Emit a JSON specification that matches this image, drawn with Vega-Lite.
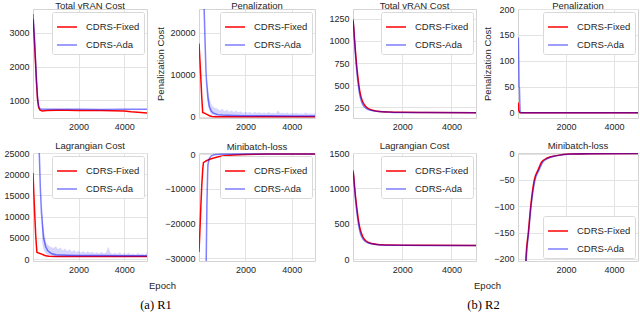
{
"$schema": "https://vega.github.io/schema/vega-lite/v6.json",
"padding": {"left": 0, "top": 0, "right": 0, "bottom": 0},
"spacing": 0,
"config": {
 "font": "Liberation Sans",
 "view": {"stroke": "#d4d4d4", "strokeWidth": 1},
 "axis": {"domain": false, "ticks": false, "grid": true, "gridColor": "#e3e3e3", "gridWidth": 1, "labelFontSize": 9, "labelColor": "#262626", "labelPadding": 4, "titleFontSize": 9.5, "titleFontWeight": "normal", "titleColor": "#262626", "labelFont": "Liberation Sans", "titleFont": "Liberation Sans"},
 "title": {"fontSize": 9.5, "fontWeight": "normal", "color": "#262626", "offset": -1, "font": "Liberation Sans"},
 "legend": {"orient": "top-right", "offset": 3, "fillColor": "white", "strokeColor": "#d9d9d9", "cornerRadius": 2, "padding": 4, "rowPadding": 2, "labelFontSize": 9.5, "labelColor": "#262626", "symbolType": "stroke", "symbolSize": 400, "symbolStrokeWidth": 1.5, "labelOffset": 8, "labelFont": "Liberation Sans"}
},
"datasets": {
 "p1": [
  {"s":"CDRS-Fixed","x":0,"y":3400},{"s":"CDRS-Fixed","x":50,"y":2900},{"s":"CDRS-Fixed","x":100,"y":2250},{"s":"CDRS-Fixed","x":150,"y":1550},{"s":"CDRS-Fixed","x":200,"y":1020},{"s":"CDRS-Fixed","x":250,"y":790},{"s":"CDRS-Fixed","x":300,"y":720},{"s":"CDRS-Fixed","x":400,"y":690},{"s":"CDRS-Fixed","x":600,"y":700},{"s":"CDRS-Fixed","x":1000,"y":712},{"s":"CDRS-Fixed","x":1500,"y":706},{"s":"CDRS-Fixed","x":2000,"y":702},{"s":"CDRS-Fixed","x":2500,"y":700},{"s":"CDRS-Fixed","x":3000,"y":698},{"s":"CDRS-Fixed","x":3500,"y":692},{"s":"CDRS-Fixed","x":4000,"y":685},{"s":"CDRS-Fixed","x":4300,"y":665},{"s":"CDRS-Fixed","x":4600,"y":650},{"s":"CDRS-Fixed","x":5000,"y":630},
  {"s":"CDRS-Ada","x":0,"y":3550},{"s":"CDRS-Ada","x":50,"y":3050},{"s":"CDRS-Ada","x":100,"y":2350},{"s":"CDRS-Ada","x":150,"y":1650},{"s":"CDRS-Ada","x":200,"y":1080},{"s":"CDRS-Ada","x":250,"y":820},{"s":"CDRS-Ada","x":300,"y":755},{"s":"CDRS-Ada","x":400,"y":740},{"s":"CDRS-Ada","x":1000,"y":738},{"s":"CDRS-Ada","x":2000,"y":735},{"s":"CDRS-Ada","x":3000,"y":733},{"s":"CDRS-Ada","x":4000,"y":735},{"s":"CDRS-Ada","x":5000,"y":738}
 ],
 "p2": [
  {"s":"CDRS-Fixed","x":0,"y":17400},{"s":"CDRS-Fixed","x":40,"y":13500},{"s":"CDRS-Fixed","x":80,"y":9000},{"s":"CDRS-Fixed","x":120,"y":4500},{"s":"CDRS-Fixed","x":160,"y":1000},{"s":"CDRS-Fixed","x":250,"y":800},{"s":"CDRS-Fixed","x":360,"y":500},{"s":"CDRS-Fixed","x":450,"y":250},{"s":"CDRS-Fixed","x":560,"y":50},{"s":"CDRS-Fixed","x":700,"y":20},{"s":"CDRS-Fixed","x":5000,"y":10},
  {"s":"CDRS-Ada","x":0,"y":70000},{"s":"CDRS-Ada","x":150,"y":45000},{"s":"CDRS-Ada","x":220,"y":26000},{"s":"CDRS-Ada","x":260,"y":18000},{"s":"CDRS-Ada","x":300,"y":11000},{"s":"CDRS-Ada","x":330,"y":7900},{"s":"CDRS-Ada","x":380,"y":4800},{"s":"CDRS-Ada","x":445,"y":2400},{"s":"CDRS-Ada","x":520,"y":1400},{"s":"CDRS-Ada","x":600,"y":900},{"s":"CDRS-Ada","x":800,"y":500},{"s":"CDRS-Ada","x":1000,"y":400},{"s":"CDRS-Ada","x":1500,"y":300},{"s":"CDRS-Ada","x":2000,"y":250},{"s":"CDRS-Ada","x":3000,"y":220},{"s":"CDRS-Ada","x":4000,"y":200},{"s":"CDRS-Ada","x":5000,"y":200},
  {"s":"band","x":350,"y":4000,"y2":9000},{"s":"band","x":400,"y":2500,"y2":6500},{"s":"band","x":450,"y":1500,"y2":4500},{"s":"band","x":500,"y":800,"y2":3300},{"s":"band","x":600,"y":400,"y2":2400},{"s":"band","x":700,"y":200,"y2":2100},{"s":"band","x":800,"y":150,"y2":1900},{"s":"band","x":900,"y":0,"y2":1500},{"s":"band","x":1000,"y":0,"y2":1900},{"s":"band","x":1100,"y":0,"y2":1300},{"s":"band","x":1200,"y":0,"y2":1700},{"s":"band","x":1300,"y":0,"y2":1200},{"s":"band","x":1400,"y":0,"y2":1500},{"s":"band","x":1500,"y":0,"y2":1100},{"s":"band","x":1600,"y":0,"y2":1400},{"s":"band","x":1700,"y":0,"y2":1000},{"s":"band","x":1800,"y":0,"y2":1300},{"s":"band","x":1900,"y":0,"y2":900},{"s":"band","x":2000,"y":0,"y2":1200},{"s":"band","x":2100,"y":0,"y2":950},{"s":"band","x":2200,"y":0,"y2":1150},{"s":"band","x":2300,"y":0,"y2":800},{"s":"band","x":2400,"y":0,"y2":1100},{"s":"band","x":2500,"y":0,"y2":900},{"s":"band","x":2600,"y":0,"y2":1050},{"s":"band","x":2700,"y":0,"y2":800},{"s":"band","x":2800,"y":0,"y2":1000},{"s":"band","x":2900,"y":0,"y2":850},{"s":"band","x":3000,"y":0,"y2":1100},{"s":"band","x":3100,"y":0,"y2":800},{"s":"band","x":3200,"y":0,"y2":950},{"s":"band","x":3300,"y":0,"y2":700},{"s":"band","x":3400,"y":0,"y2":1500},{"s":"band","x":3500,"y":0,"y2":800},{"s":"band","x":3600,"y":0,"y2":950},{"s":"band","x":3700,"y":0,"y2":750},{"s":"band","x":3800,"y":0,"y2":1000},{"s":"band","x":3900,"y":0,"y2":700},{"s":"band","x":4000,"y":0,"y2":900},{"s":"band","x":4100,"y":0,"y2":750},{"s":"band","x":4200,"y":0,"y2":950},{"s":"band","x":4300,"y":0,"y2":700},{"s":"band","x":4400,"y":0,"y2":850},{"s":"band","x":4500,"y":0,"y2":650},{"s":"band","x":4600,"y":0,"y2":1000},{"s":"band","x":4700,"y":0,"y2":700},{"s":"band","x":4800,"y":0,"y2":850},{"s":"band","x":4900,"y":0,"y2":650},{"s":"band","x":5000,"y":0,"y2":900}
 ],
 "p3": [
  {"s":"CDRS-Fixed","x":0,"y":1230},{"s":"CDRS-Fixed","x":30,"y":1150},{"s":"CDRS-Fixed","x":60,"y":1030},{"s":"CDRS-Fixed","x":100,"y":880},{"s":"CDRS-Fixed","x":150,"y":720},{"s":"CDRS-Fixed","x":200,"y":590},{"s":"CDRS-Fixed","x":250,"y":480},{"s":"CDRS-Fixed","x":300,"y":400},{"s":"CDRS-Fixed","x":400,"y":310},{"s":"CDRS-Fixed","x":500,"y":265},{"s":"CDRS-Fixed","x":600,"y":240},{"s":"CDRS-Fixed","x":800,"y":218},{"s":"CDRS-Fixed","x":1000,"y":207},{"s":"CDRS-Fixed","x":1500,"y":197},{"s":"CDRS-Fixed","x":2000,"y":194},{"s":"CDRS-Fixed","x":3000,"y":192},{"s":"CDRS-Fixed","x":5000,"y":190},
  {"s":"CDRS-Ada","x":0,"y":1250},{"s":"CDRS-Ada","x":30,"y":1140},{"s":"CDRS-Ada","x":60,"y":1000},{"s":"CDRS-Ada","x":100,"y":840},{"s":"CDRS-Ada","x":150,"y":670},{"s":"CDRS-Ada","x":200,"y":540},{"s":"CDRS-Ada","x":250,"y":430},{"s":"CDRS-Ada","x":300,"y":360},{"s":"CDRS-Ada","x":400,"y":280},{"s":"CDRS-Ada","x":500,"y":245},{"s":"CDRS-Ada","x":600,"y":228},{"s":"CDRS-Ada","x":800,"y":212},{"s":"CDRS-Ada","x":1000,"y":204},{"s":"CDRS-Ada","x":1500,"y":196},{"s":"CDRS-Ada","x":2000,"y":193},{"s":"CDRS-Ada","x":3000,"y":191},{"s":"CDRS-Ada","x":5000,"y":190}
 ],
 "p4": [
  {"s":"CDRS-Fixed","x":0,"y":20},{"s":"CDRS-Fixed","x":15,"y":15},{"s":"CDRS-Fixed","x":30,"y":5},{"s":"CDRS-Fixed","x":60,"y":1},{"s":"CDRS-Fixed","x":100,"y":0},{"s":"CDRS-Fixed","x":5000,"y":0},
  {"s":"CDRS-Ada","x":0,"y":140},{"s":"CDRS-Ada","x":15,"y":145},{"s":"CDRS-Ada","x":30,"y":100},{"s":"CDRS-Ada","x":45,"y":50},{"s":"CDRS-Ada","x":60,"y":48},{"s":"CDRS-Ada","x":75,"y":20},{"s":"CDRS-Ada","x":90,"y":2},{"s":"CDRS-Ada","x":150,"y":0},{"s":"CDRS-Ada","x":5000,"y":0}
 ],
 "p5": [
  {"s":"CDRS-Fixed","x":0,"y":20300},{"s":"CDRS-Fixed","x":40,"y":15000},{"s":"CDRS-Fixed","x":80,"y":10000},{"s":"CDRS-Fixed","x":120,"y":5500},{"s":"CDRS-Fixed","x":170,"y":1600},{"s":"CDRS-Fixed","x":250,"y":1400},{"s":"CDRS-Fixed","x":350,"y":1200},{"s":"CDRS-Fixed","x":450,"y":1000},{"s":"CDRS-Fixed","x":550,"y":750},{"s":"CDRS-Fixed","x":700,"y":650},{"s":"CDRS-Fixed","x":1000,"y":620},{"s":"CDRS-Fixed","x":2000,"y":600},{"s":"CDRS-Fixed","x":3000,"y":600},{"s":"CDRS-Fixed","x":4000,"y":590},{"s":"CDRS-Fixed","x":5000,"y":580},
  {"s":"CDRS-Ada","x":0,"y":80000},{"s":"CDRS-Ada","x":200,"y":40000},{"s":"CDRS-Ada","x":275,"y":25000},{"s":"CDRS-Ada","x":320,"y":17000},{"s":"CDRS-Ada","x":370,"y":11000},{"s":"CDRS-Ada","x":420,"y":7500},{"s":"CDRS-Ada","x":465,"y":5000},{"s":"CDRS-Ada","x":550,"y":3000},{"s":"CDRS-Ada","x":640,"y":2000},{"s":"CDRS-Ada","x":800,"y":1300},{"s":"CDRS-Ada","x":1000,"y":1000},{"s":"CDRS-Ada","x":1500,"y":900},{"s":"CDRS-Ada","x":2000,"y":850},{"s":"CDRS-Ada","x":3000,"y":800},{"s":"CDRS-Ada","x":4000,"y":780},{"s":"CDRS-Ada","x":5000,"y":750},
  {"s":"band","x":400,"y":4000,"y2":13000},{"s":"band","x":450,"y":2500,"y2":8500},{"s":"band","x":500,"y":1800,"y2":6000},{"s":"band","x":550,"y":1300,"y2":4500},{"s":"band","x":600,"y":1100,"y2":3600},{"s":"band","x":700,"y":900,"y2":3100},{"s":"band","x":800,"y":800,"y2":2800},{"s":"band","x":900,"y":500,"y2":2600},{"s":"band","x":1000,"y":500,"y2":3000},{"s":"band","x":1100,"y":500,"y2":2300},{"s":"band","x":1200,"y":500,"y2":2700},{"s":"band","x":1300,"y":500,"y2":2000},{"s":"band","x":1400,"y":500,"y2":2500},{"s":"band","x":1500,"y":500,"y2":1900},{"s":"band","x":1600,"y":500,"y2":2300},{"s":"band","x":1700,"y":500,"y2":1700},{"s":"band","x":1800,"y":500,"y2":2100},{"s":"band","x":1900,"y":500,"y2":1600},{"s":"band","x":2000,"y":500,"y2":2000},{"s":"band","x":2100,"y":500,"y2":1500},{"s":"band","x":2200,"y":500,"y2":1900},{"s":"band","x":2300,"y":500,"y2":1400},{"s":"band","x":2400,"y":500,"y2":1800},{"s":"band","x":2500,"y":500,"y2":1500},{"s":"band","x":2600,"y":500,"y2":1700},{"s":"band","x":2700,"y":500,"y2":1300},{"s":"band","x":2800,"y":500,"y2":1600},{"s":"band","x":2900,"y":500,"y2":1300},{"s":"band","x":3000,"y":500,"y2":1700},{"s":"band","x":3100,"y":500,"y2":1300},{"s":"band","x":3200,"y":500,"y2":1500},{"s":"band","x":3300,"y":500,"y2":2900},{"s":"band","x":3400,"y":500,"y2":1400},{"s":"band","x":3500,"y":500,"y2":1200},{"s":"band","x":3600,"y":500,"y2":1500},{"s":"band","x":3700,"y":500,"y2":1200},{"s":"band","x":3800,"y":500,"y2":1600},{"s":"band","x":3900,"y":500,"y2":1100},{"s":"band","x":4000,"y":500,"y2":1400},{"s":"band","x":4100,"y":500,"y2":1200},{"s":"band","x":4200,"y":500,"y2":1500},{"s":"band","x":4300,"y":500,"y2":1100},{"s":"band","x":4400,"y":500,"y2":1300},{"s":"band","x":4500,"y":500,"y2":1000},{"s":"band","x":4600,"y":500,"y2":1500},{"s":"band","x":4700,"y":500,"y2":1100},{"s":"band","x":4800,"y":500,"y2":1300},{"s":"band","x":4900,"y":500,"y2":1000},{"s":"band","x":5000,"y":500,"y2":1700}
 ],
 "p6": [
  {"s":"CDRS-Fixed","x":0,"y":-28200},{"s":"CDRS-Fixed","x":40,"y":-22000},{"s":"CDRS-Fixed","x":80,"y":-15000},{"s":"CDRS-Fixed","x":120,"y":-9000},{"s":"CDRS-Fixed","x":160,"y":-4500},{"s":"CDRS-Fixed","x":190,"y":-2500},{"s":"CDRS-Fixed","x":300,"y":-2000},{"s":"CDRS-Fixed","x":460,"y":-1500},{"s":"CDRS-Fixed","x":600,"y":-1200},{"s":"CDRS-Fixed","x":830,"y":-800},{"s":"CDRS-Fixed","x":1100,"y":-500},{"s":"CDRS-Fixed","x":1500,"y":-300},{"s":"CDRS-Fixed","x":2000,"y":-150},{"s":"CDRS-Fixed","x":2500,"y":-50},{"s":"CDRS-Fixed","x":3000,"y":-20},{"s":"CDRS-Fixed","x":5000,"y":0},
  {"s":"CDRS-Ada","x":0,"y":-80000},{"s":"CDRS-Ada","x":250,"y":-45000},{"s":"CDRS-Ada","x":310,"y":-31000},{"s":"CDRS-Ada","x":340,"y":-15000},{"s":"CDRS-Ada","x":370,"y":-6000},{"s":"CDRS-Ada","x":385,"y":-3000},{"s":"CDRS-Ada","x":450,"y":-1200},{"s":"CDRS-Ada","x":530,"y":-500},{"s":"CDRS-Ada","x":700,"y":-150},{"s":"CDRS-Ada","x":1000,"y":-50},{"s":"CDRS-Ada","x":2000,"y":-10},{"s":"CDRS-Ada","x":5000,"y":0}
 ],
 "p7": [
  {"s":"CDRS-Fixed","x":0,"y":1240},{"s":"CDRS-Fixed","x":30,"y":1170},{"s":"CDRS-Fixed","x":60,"y":1040},{"s":"CDRS-Fixed","x":100,"y":890},{"s":"CDRS-Fixed","x":150,"y":740},{"s":"CDRS-Fixed","x":200,"y":600},{"s":"CDRS-Fixed","x":250,"y":490},{"s":"CDRS-Fixed","x":300,"y":410},{"s":"CDRS-Fixed","x":400,"y":315},{"s":"CDRS-Fixed","x":500,"y":265},{"s":"CDRS-Fixed","x":600,"y":240},{"s":"CDRS-Fixed","x":800,"y":215},{"s":"CDRS-Fixed","x":1000,"y":205},{"s":"CDRS-Fixed","x":1500,"y":197},{"s":"CDRS-Fixed","x":2000,"y":195},{"s":"CDRS-Fixed","x":3000,"y":194},{"s":"CDRS-Fixed","x":5000,"y":193},
  {"s":"CDRS-Ada","x":0,"y":1260},{"s":"CDRS-Ada","x":30,"y":1150},{"s":"CDRS-Ada","x":60,"y":1010},{"s":"CDRS-Ada","x":100,"y":850},{"s":"CDRS-Ada","x":150,"y":680},{"s":"CDRS-Ada","x":200,"y":550},{"s":"CDRS-Ada","x":250,"y":440},{"s":"CDRS-Ada","x":300,"y":365},{"s":"CDRS-Ada","x":400,"y":285},{"s":"CDRS-Ada","x":500,"y":248},{"s":"CDRS-Ada","x":600,"y":230},{"s":"CDRS-Ada","x":800,"y":212},{"s":"CDRS-Ada","x":1000,"y":203},{"s":"CDRS-Ada","x":1500,"y":196},{"s":"CDRS-Ada","x":2000,"y":194},{"s":"CDRS-Ada","x":3000,"y":193},{"s":"CDRS-Ada","x":5000,"y":193}
 ],
 "p8": [
  {"s":"CDRS-Fixed","x":0,"y":-2500},{"s":"CDRS-Fixed","x":200,"y":-700},{"s":"CDRS-Fixed","x":330,"y":-200},{"s":"CDRS-Fixed","x":430,"y":-150},{"s":"CDRS-Fixed","x":530,"y":-100},{"s":"CDRS-Fixed","x":680,"y":-50},{"s":"CDRS-Fixed","x":850,"y":-30},{"s":"CDRS-Fixed","x":985,"y":-16},{"s":"CDRS-Fixed","x":1200,"y":-9},{"s":"CDRS-Fixed","x":1610,"y":-4},{"s":"CDRS-Fixed","x":2170,"y":-1},{"s":"CDRS-Fixed","x":3000,"y":-0.3},{"s":"CDRS-Fixed","x":5000,"y":0},
  {"s":"CDRS-Ada","x":0,"y":-2500},{"s":"CDRS-Ada","x":200,"y":-750},{"s":"CDRS-Ada","x":340,"y":-205},{"s":"CDRS-Ada","x":445,"y":-150},{"s":"CDRS-Ada","x":545,"y":-100},{"s":"CDRS-Ada","x":700,"y":-52},{"s":"CDRS-Ada","x":880,"y":-31},{"s":"CDRS-Ada","x":1020,"y":-17},{"s":"CDRS-Ada","x":1250,"y":-9},{"s":"CDRS-Ada","x":1650,"y":-4},{"s":"CDRS-Ada","x":2200,"y":-1},{"s":"CDRS-Ada","x":3000,"y":-0.3},{"s":"CDRS-Ada","x":5000,"y":0}
 ]
},
"resolve": {"scale": {"color": "independent", "opacity": "independent"}, "legend": {"color": "independent", "opacity": "independent"}},
"hconcat": [
 {
  "columns": 2, "bounds": "flush", "align": "each", "spacing": {"row": 35, "column": 52},
  "title": {"text": "(a) R1", "orient": "bottom", "anchor": "middle", "offset": 9, "dx": -2, "font": "Liberation Serif", "fontSize": 12.5, "color": "#000000"},
  "resolve": {"scale": {"color": "independent", "opacity": "independent"}, "legend": {"color": "independent", "opacity": "independent"}},
  "concat": [
   {
    "width": 114, "height": 109, "title": "Total vRAN Cost", "data": {"name": "p1"},
    "encoding": {
     "x": {"field": "x", "type": "quantitative", "scale": {"domain": [0, 5000], "nice": false, "zero": false}, "axis": {"values": [2000, 4000], "format": "d", "title": null}},
     "y": {"field": "y", "type": "quantitative", "scale": {"domain": [480, 3700], "nice": false, "zero": false}, "axis": {"values": [1000, 2000, 3000], "format": "d", "title": null, "minExtent": 32, "maxExtent": 32}}
    },
    "layer": [
     {"transform": [{"filter": "datum.s === 'CDRS-Fixed'"}], "mark": {"type": "line", "clip": true, "strokeWidth": 1.5}, "encoding": {"color": {"field": "s", "type": "nominal", "scale": {"domain": ["CDRS-Fixed", "CDRS-Ada"], "range": ["#ff0000", "#0000ff"]}, "legend": {"title": null}}, "opacity": {"field": "s", "type": "nominal", "scale": {"domain": ["CDRS-Fixed", "CDRS-Ada"], "range": [1, 0.5]}, "legend": {"title": null}}}},
     {"transform": [{"filter": "datum.s === 'CDRS-Ada'"}], "mark": {"type": "line", "clip": true, "strokeWidth": 1.5}, "encoding": {"color": {"field": "s", "type": "nominal", "scale": {"domain": ["CDRS-Fixed", "CDRS-Ada"], "range": ["#ff0000", "#0000ff"]}, "legend": {"title": null}}, "opacity": {"field": "s", "type": "nominal", "scale": {"domain": ["CDRS-Fixed", "CDRS-Ada"], "range": [1, 0.5]}, "legend": {"title": null}}}}
    ]
   },
   {
    "width": 116, "height": 109, "title": "Penalization", "data": {"name": "p2"},
    "encoding": {
     "x": {"field": "x", "type": "quantitative", "scale": {"domain": [0, 5000], "nice": false, "zero": false}, "axis": {"values": [2000, 4000], "format": "d", "title": null}},
     "y": {"field": "y", "type": "quantitative", "scale": {"domain": [-300, 25600], "nice": false, "zero": false}, "axis": {"values": [0, 10000, 20000], "format": "d", "title": "Penalization Cost", "minExtent": 29, "maxExtent": 29, "titlePadding": 5}}
    },
    "layer": [
     {"transform": [{"filter": "datum.s === 'CDRS-Fixed'"}], "mark": {"type": "line", "clip": true, "strokeWidth": 1.5}, "encoding": {"color": {"field": "s", "type": "nominal", "scale": {"domain": ["CDRS-Fixed", "CDRS-Ada"], "range": ["#ff0000", "#0000ff"]}, "legend": {"title": null}}, "opacity": {"field": "s", "type": "nominal", "scale": {"domain": ["CDRS-Fixed", "CDRS-Ada"], "range": [1, 0.5]}, "legend": {"title": null}}}},
     {"transform": [{"filter": "datum.s === 'band'"}], "mark": {"type": "area", "clip": true, "color": "#0000ff", "opacity": 0.16}, "encoding": {"y2": {"field": "y2"}}},
     {"transform": [{"filter": "datum.s === 'CDRS-Ada'"}], "mark": {"type": "line", "clip": true, "strokeWidth": 1.5}, "encoding": {"color": {"field": "s", "type": "nominal", "scale": {"domain": ["CDRS-Fixed", "CDRS-Ada"], "range": ["#ff0000", "#0000ff"]}, "legend": {"title": null}}, "opacity": {"field": "s", "type": "nominal", "scale": {"domain": ["CDRS-Fixed", "CDRS-Ada"], "range": [1, 0.5]}, "legend": {"title": null}}}}
    ]
   },
   {
    "width": 114, "height": 108, "title": "Lagrangian Cost", "data": {"name": "p5"},
    "encoding": {
     "x": {"field": "x", "type": "quantitative", "scale": {"domain": [0, 5000], "nice": false, "zero": false}, "axis": {"values": [2000, 4000], "format": "d", "title": null}},
     "y": {"field": "y", "type": "quantitative", "scale": {"domain": [-470, 25000], "nice": false, "zero": false}, "axis": {"values": [0, 5000, 10000, 15000, 20000, 25000], "format": "d", "title": null, "minExtent": 32, "maxExtent": 32}}
    },
    "layer": [
     {"transform": [{"filter": "datum.s === 'CDRS-Fixed'"}], "mark": {"type": "line", "clip": true, "strokeWidth": 1.5}, "encoding": {"color": {"field": "s", "type": "nominal", "scale": {"domain": ["CDRS-Fixed", "CDRS-Ada"], "range": ["#ff0000", "#0000ff"]}, "legend": {"title": null}}, "opacity": {"field": "s", "type": "nominal", "scale": {"domain": ["CDRS-Fixed", "CDRS-Ada"], "range": [1, 0.5]}, "legend": {"title": null}}}},
     {"transform": [{"filter": "datum.s === 'band'"}], "mark": {"type": "area", "clip": true, "color": "#0000ff", "opacity": 0.16}, "encoding": {"y2": {"field": "y2"}}},
     {"transform": [{"filter": "datum.s === 'CDRS-Ada'"}], "mark": {"type": "line", "clip": true, "strokeWidth": 1.5}, "encoding": {"color": {"field": "s", "type": "nominal", "scale": {"domain": ["CDRS-Fixed", "CDRS-Ada"], "range": ["#ff0000", "#0000ff"]}, "legend": {"title": null}}, "opacity": {"field": "s", "type": "nominal", "scale": {"domain": ["CDRS-Fixed", "CDRS-Ada"], "range": [1, 0.5]}, "legend": {"title": null}}}}
    ]
   },
   {
    "width": 116, "height": 108, "title": "Minibatch-loss", "data": {"name": "p6"},
    "encoding": {
     "x": {"field": "x", "type": "quantitative", "scale": {"domain": [0, 5000], "nice": false, "zero": false}, "axis": {"values": [2000, 4000], "format": "d", "title": "Epoch", "titleX": -37, "titleY": 24, "titleAlign": "center", "titleBaseline": "middle"}},
     "y": {"field": "y", "type": "quantitative", "scale": {"domain": [-30800, 300], "nice": false, "zero": false}, "axis": {"values": [-30000, -20000, -10000, 0], "format": "d", "title": null}}
    },
    "layer": [
     {"transform": [{"filter": "datum.s === 'CDRS-Fixed'"}], "mark": {"type": "line", "clip": true, "strokeWidth": 1.5}, "encoding": {"color": {"field": "s", "type": "nominal", "scale": {"domain": ["CDRS-Fixed", "CDRS-Ada"], "range": ["#ff0000", "#0000ff"]}, "legend": {"title": null}}, "opacity": {"field": "s", "type": "nominal", "scale": {"domain": ["CDRS-Fixed", "CDRS-Ada"], "range": [1, 0.5]}, "legend": {"title": null}}}},
     {"transform": [{"filter": "datum.s === 'CDRS-Ada'"}], "mark": {"type": "line", "clip": true, "strokeWidth": 1.5}, "encoding": {"color": {"field": "s", "type": "nominal", "scale": {"domain": ["CDRS-Fixed", "CDRS-Ada"], "range": ["#ff0000", "#0000ff"]}, "legend": {"title": null}}, "opacity": {"field": "s", "type": "nominal", "scale": {"domain": ["CDRS-Fixed", "CDRS-Ada"], "range": [1, 0.5]}, "legend": {"title": null}}}}
    ]
   }
  ]
 },
 {
  "columns": 2, "bounds": "flush", "align": "each", "spacing": {"row": 35, "column": 42},
  "title": {"text": "(b) R2", "orient": "bottom", "anchor": "middle", "offset": 9, "dx": 6, "font": "Liberation Serif", "fontSize": 12.5, "color": "#000000"},
  "resolve": {"scale": {"color": "independent", "opacity": "independent"}, "legend": {"color": "independent", "opacity": "independent"}},
  "concat": [
   {
    "width": 123, "height": 109, "title": "Total vRAN Cost", "data": {"name": "p3"},
    "encoding": {
     "x": {"field": "x", "type": "quantitative", "scale": {"domain": [0, 5000], "nice": false, "zero": false}, "axis": {"values": [2000, 4000], "format": "d", "title": null}},
     "y": {"field": "y", "type": "quantitative", "scale": {"domain": [130, 1360], "nice": false, "zero": false}, "axis": {"values": [250, 500, 750, 1000, 1250], "format": "d", "title": null, "minExtent": 36, "maxExtent": 36}}
    },
    "layer": [
     {"transform": [{"filter": "datum.s === 'CDRS-Fixed'"}], "mark": {"type": "line", "clip": true, "strokeWidth": 1.5, "interpolate": "monotone"}, "encoding": {"color": {"field": "s", "type": "nominal", "scale": {"domain": ["CDRS-Fixed", "CDRS-Ada"], "range": ["#ff0000", "#0000ff"]}, "legend": {"title": null}}, "opacity": {"field": "s", "type": "nominal", "scale": {"domain": ["CDRS-Fixed", "CDRS-Ada"], "range": [1, 0.5]}, "legend": {"title": null}}}},
     {"transform": [{"filter": "datum.s === 'CDRS-Ada'"}], "mark": {"type": "line", "clip": true, "strokeWidth": 1.5, "interpolate": "monotone"}, "encoding": {"color": {"field": "s", "type": "nominal", "scale": {"domain": ["CDRS-Fixed", "CDRS-Ada"], "range": ["#ff0000", "#0000ff"]}, "legend": {"title": null}}, "opacity": {"field": "s", "type": "nominal", "scale": {"domain": ["CDRS-Fixed", "CDRS-Ada"], "range": [1, 0.5]}, "legend": {"title": null}}}}
    ]
   },
   {
    "width": 120, "height": 109, "title": {"text": "Penalization", "offset": -5}, "data": {"name": "p4"},
    "encoding": {
     "x": {"field": "x", "type": "quantitative", "scale": {"domain": [0, 5000], "nice": false, "zero": false}, "axis": {"values": [2000, 4000], "format": "d", "title": null}},
     "y": {"field": "y", "type": "quantitative", "scale": {"domain": [-10, 200], "nice": false, "zero": false}, "axis": {"values": [0, 50, 100, 150, 200], "format": "d", "title": "Penalization Cost", "minExtent": 20, "maxExtent": 20, "titlePadding": 6}}
    },
    "layer": [
     {"transform": [{"filter": "datum.s === 'CDRS-Fixed'"}], "mark": {"type": "line", "clip": true, "strokeWidth": 1.5}, "encoding": {"color": {"field": "s", "type": "nominal", "scale": {"domain": ["CDRS-Fixed", "CDRS-Ada"], "range": ["#ff0000", "#0000ff"]}, "legend": {"title": null}}, "opacity": {"field": "s", "type": "nominal", "scale": {"domain": ["CDRS-Fixed", "CDRS-Ada"], "range": [1, 0.5]}, "legend": {"title": null}}}},
     {"transform": [{"filter": "datum.s === 'CDRS-Ada'"}], "mark": {"type": "line", "clip": true, "strokeWidth": 1.5}, "encoding": {"color": {"field": "s", "type": "nominal", "scale": {"domain": ["CDRS-Fixed", "CDRS-Ada"], "range": ["#ff0000", "#0000ff"]}, "legend": {"title": null}}, "opacity": {"field": "s", "type": "nominal", "scale": {"domain": ["CDRS-Fixed", "CDRS-Ada"], "range": [1, 0.5]}, "legend": {"title": null}}}}
    ]
   },
   {
    "width": 123, "height": 108, "title": "Lagrangian Cost", "data": {"name": "p7"},
    "encoding": {
     "x": {"field": "x", "type": "quantitative", "scale": {"domain": [0, 5000], "nice": false, "zero": false}, "axis": {"values": [2000, 4000], "format": "d", "title": null}},
     "y": {"field": "y", "type": "quantitative", "scale": {"domain": [-28, 1500], "nice": false, "zero": false}, "axis": {"values": [0, 500, 1000, 1500], "format": "d", "title": null, "minExtent": 36, "maxExtent": 36}}
    },
    "layer": [
     {"transform": [{"filter": "datum.s === 'CDRS-Fixed'"}], "mark": {"type": "line", "clip": true, "strokeWidth": 1.5, "interpolate": "monotone"}, "encoding": {"color": {"field": "s", "type": "nominal", "scale": {"domain": ["CDRS-Fixed", "CDRS-Ada"], "range": ["#ff0000", "#0000ff"]}, "legend": {"title": null}}, "opacity": {"field": "s", "type": "nominal", "scale": {"domain": ["CDRS-Fixed", "CDRS-Ada"], "range": [1, 0.5]}, "legend": {"title": null}}}},
     {"transform": [{"filter": "datum.s === 'CDRS-Ada'"}], "mark": {"type": "line", "clip": true, "strokeWidth": 1.5, "interpolate": "monotone"}, "encoding": {"color": {"field": "s", "type": "nominal", "scale": {"domain": ["CDRS-Fixed", "CDRS-Ada"], "range": ["#ff0000", "#0000ff"]}, "legend": {"title": null}}, "opacity": {"field": "s", "type": "nominal", "scale": {"domain": ["CDRS-Fixed", "CDRS-Ada"], "range": [1, 0.5]}, "legend": {"title": null}}}}
    ]
   },
   {
    "width": 120, "height": 108, "title": "Minibatch-loss", "data": {"name": "p8"},
    "encoding": {
     "x": {"field": "x", "type": "quantitative", "scale": {"domain": [0, 5000], "nice": false, "zero": false}, "axis": {"values": [2000, 4000], "format": "d", "title": "Epoch", "titleX": -31, "titleY": 24, "titleAlign": "center", "titleBaseline": "middle"}},
     "y": {"field": "y", "type": "quantitative", "scale": {"domain": [-204, 1], "nice": false, "zero": false}, "axis": {"values": [-200, -150, -100, -50, 0], "format": "d", "title": null}}
    },
    "layer": [
     {"transform": [{"filter": "datum.s === 'CDRS-Fixed'"}], "mark": {"type": "line", "clip": true, "strokeWidth": 1.5, "interpolate": "monotone"}, "encoding": {"color": {"field": "s", "type": "nominal", "scale": {"domain": ["CDRS-Fixed", "CDRS-Ada"], "range": ["#ff0000", "#0000ff"]}, "legend": {"title": null, "orient": "bottom-right"}}, "opacity": {"field": "s", "type": "nominal", "scale": {"domain": ["CDRS-Fixed", "CDRS-Ada"], "range": [1, 0.5]}, "legend": {"title": null, "orient": "bottom-right"}}}},
     {"transform": [{"filter": "datum.s === 'CDRS-Ada'"}], "mark": {"type": "line", "clip": true, "strokeWidth": 1.5, "interpolate": "monotone"}, "encoding": {"color": {"field": "s", "type": "nominal", "scale": {"domain": ["CDRS-Fixed", "CDRS-Ada"], "range": ["#ff0000", "#0000ff"]}, "legend": {"title": null, "orient": "bottom-right"}}, "opacity": {"field": "s", "type": "nominal", "scale": {"domain": ["CDRS-Fixed", "CDRS-Ada"], "range": [1, 0.5]}, "legend": {"title": null, "orient": "bottom-right"}}}}
    ]
   }
  ]
 }
]
}
